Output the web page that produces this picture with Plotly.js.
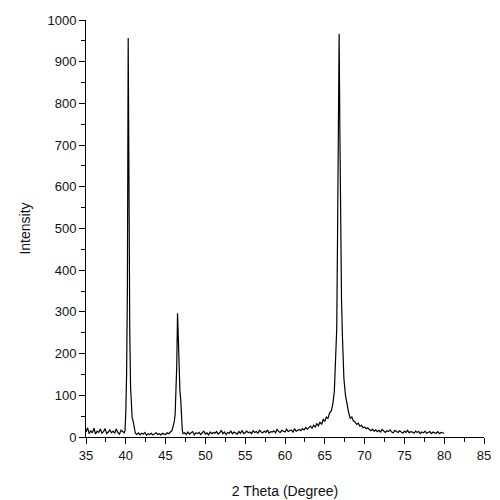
<!DOCTYPE html>
<html>
<head>
<meta charset="utf-8">
<script src="https://cdn.plot.ly/plotly-3.0.1.min.js"></script>
<style>
  html, body { margin: 0; padding: 0; background: #fff; }
  #chart { width: 500px; height: 500px; }
</style>
</head>
<body>
<div id="chart"></div>
<script>
// 2 theta positions (degrees)
const twoTheta = [
  35.0, 35.2, 35.4, 35.6, 35.8, 36.0, 36.2, 36.4, 36.6, 36.8,
  37.0, 37.2, 37.4, 37.6, 37.8, 38.0, 38.2, 38.4, 38.6, 38.8,
  39.0, 39.2, 39.4, 39.6, 39.8,
  39.9, 40.0, 40.1, 40.2, 40.3, 40.4, 40.5, 40.6, 40.7, 40.8, 40.9, 41.0, 41.1,
  41.2, 41.4, 41.6, 41.8, 42.0, 42.2, 42.4, 42.6, 42.8, 43.0,
  43.2, 43.4, 43.6, 43.8, 44.0, 44.2, 44.4, 44.6, 44.8, 45.0,
  45.2, 45.4, 45.6,
  45.8, 46.0, 46.1, 46.2, 46.3, 46.4, 46.5, 46.6, 46.7, 46.8, 46.9, 47.0, 47.1, 47.2,
  47.4, 47.6, 47.8, 48.0, 48.2, 48.4, 48.6, 48.8, 49.0, 49.2,
  49.4, 49.6, 49.8, 50.0, 50.2, 50.4, 50.6, 50.8, 51.0, 51.2,
  51.4, 51.6, 51.8, 52.0, 52.2, 52.4, 52.6, 52.8, 53.0, 53.2,
  53.4, 53.6, 53.8, 54.0, 54.2, 54.4, 54.6, 54.8, 55.0, 55.2,
  55.4, 55.6, 55.8, 56.0, 56.2, 56.4, 56.6, 56.8, 57.0, 57.2,
  57.4, 57.6, 57.8, 58.0, 58.2, 58.4, 58.6, 58.8, 59.0, 59.2,
  59.4, 59.6, 59.8, 60.0, 60.2, 60.4, 60.6, 60.8, 61.0, 61.2,
  61.4, 61.6, 61.8,
  62.0, 62.2, 62.4, 62.6, 62.8, 63.0, 63.2, 63.4, 63.6, 63.8,
  64.0, 64.2, 64.4, 64.6, 64.8, 65.0, 65.2, 65.4, 65.6, 65.8,
  66.0, 66.2, 66.3, 66.4, 66.5, 66.6, 66.7, 66.8, 66.9, 67.0,
  67.1, 67.2, 67.3, 67.4, 67.6, 67.8, 68.0, 68.2, 68.4, 68.6,
  68.8, 69.0, 69.2, 69.4, 69.6, 69.8, 70.0, 70.2, 70.4,
  70.6, 70.8, 71.0, 71.2, 71.4, 71.6, 71.8, 72.0, 72.2, 72.4,
  72.6, 72.8, 73.0, 73.2, 73.4, 73.6, 73.8, 74.0, 74.2, 74.4,
  74.6, 74.8, 75.0, 75.2, 75.4, 75.6, 75.8, 76.0, 76.2, 76.4,
  76.6, 76.8, 77.0, 77.2, 77.4, 77.6, 77.8, 78.0, 78.2, 78.4,
  78.6, 78.8, 79.0, 79.2, 79.4, 79.6, 79.8, 80.0
];

// intensity (counts), same order
const intensity = [
  12, 22, 8, 15, 10, 21, 7, 14, 11, 19,
  9, 13, 20, 8, 12, 17, 10, 14, 9, 19,
  11, 7, 16, 12, 10,
  15, 60, 150, 350, 957, 500, 250, 120, 60, 45, 40, 25, 12,
  9, 6, 10, 5, 9, 7, 11, 4, 8, 6,
  9, 5, 7, 10, 6, 8, 5, 9, 7, 6,
  10, 8, 12,
  15, 30, 38, 55, 95, 170, 297, 220, 150, 110, 90, 45, 15, 8,
  10, 6, 12, 7, 9, 13, 5, 10, 8, 11,
  6, 9, 14, 7, 10, 5, 12, 8, 11, 9,
  13, 7, 10, 16, 8, 12, 6, 11, 9, 14,
  8, 12, 10, 7, 13, 9, 15, 8, 11, 14,
  10, 12, 8, 15, 11, 13, 9, 16, 12, 10,
  14, 11, 17, 9, 13, 12, 15, 10, 18, 13,
  11, 16, 14, 12, 19, 13, 15, 17, 12, 20,
  14, 16, 18,
  15, 20, 17, 23, 19, 22, 26, 21, 28, 24,
  32, 27, 36, 30, 42, 38, 48, 44, 58, 62,
  78, 110, 150, 190, 260, 480, 750, 967, 720, 460,
  330, 250, 180, 140, 100, 75, 58, 45, 48, 38,
  36, 30, 33, 26, 28, 22, 24, 20, 22,
  18, 15, 19, 14, 17, 13, 16, 12, 18, 14,
  11, 15, 13, 17, 12, 10, 16, 13, 11, 15,
  12, 9, 14, 11, 16, 10, 13, 12, 9, 14,
  11, 13, 8, 12, 10, 14, 9, 11, 13, 8,
  12, 10, 9, 13, 8, 11, 10, 9
];

const xTicks = [35, 40, 45, 50, 55, 60, 65, 70, 75, 80, 85];
const yTicks = [0, 100, 200, 300, 400, 500, 600, 700, 800, 900, 1000];

const tickFont = { family: '"Liberation Sans Narrow", "Liberation Sans", Arial, sans-serif', size: 13, color: '#111' };
const titleFont = { family: '"Liberation Sans Narrow", "Liberation Sans", Arial, sans-serif', size: 14, color: '#111' };

const data = [{
  x: twoTheta,
  y: intensity,
  mode: 'lines',
  line: { color: '#000', width: 1.2 },
  hoverinfo: 'skip'
}];

const layout = {
  width: 500,
  height: 500,
  paper_bgcolor: '#fff',
  plot_bgcolor: '#fff',
  showlegend: false,
  margin: { l: 86, r: 16, t: 20, b: 63 },
  font: tickFont,
  xaxis: {
    range: [35, 85],
    tickvals: xTicks,
    ticks: 'outside',
    ticklen: 6,
    tickwidth: 1,
    tickcolor: '#000',
    minor: { dtick: 2.5, ticks: 'outside', ticklen: 4, tickcolor: '#000' },
    showline: true,
    linecolor: '#000',
    linewidth: 1,
    showgrid: false,
    zeroline: false,
    tickfont: tickFont,
    title: { text: '2 Theta (Degree)', font: titleFont, standoff: 24 }
  },
  yaxis: {
    range: [0, 1000],
    tickvals: yTicks,
    ticks: 'outside',
    ticklen: 6,
    tickwidth: 1,
    tickcolor: '#000',
    minor: { dtick: 50, ticks: 'outside', ticklen: 4, tickcolor: '#000' },
    showline: true,
    linecolor: '#000',
    linewidth: 1,
    showgrid: false,
    zeroline: false,
    tickfont: tickFont,
    title: { text: 'Intensity', font: titleFont, standoff: 13 }
  }
};

Plotly.newPlot('chart', data, layout, { displayModeBar: false, staticPlot: true });
</script>
</body>
</html>
